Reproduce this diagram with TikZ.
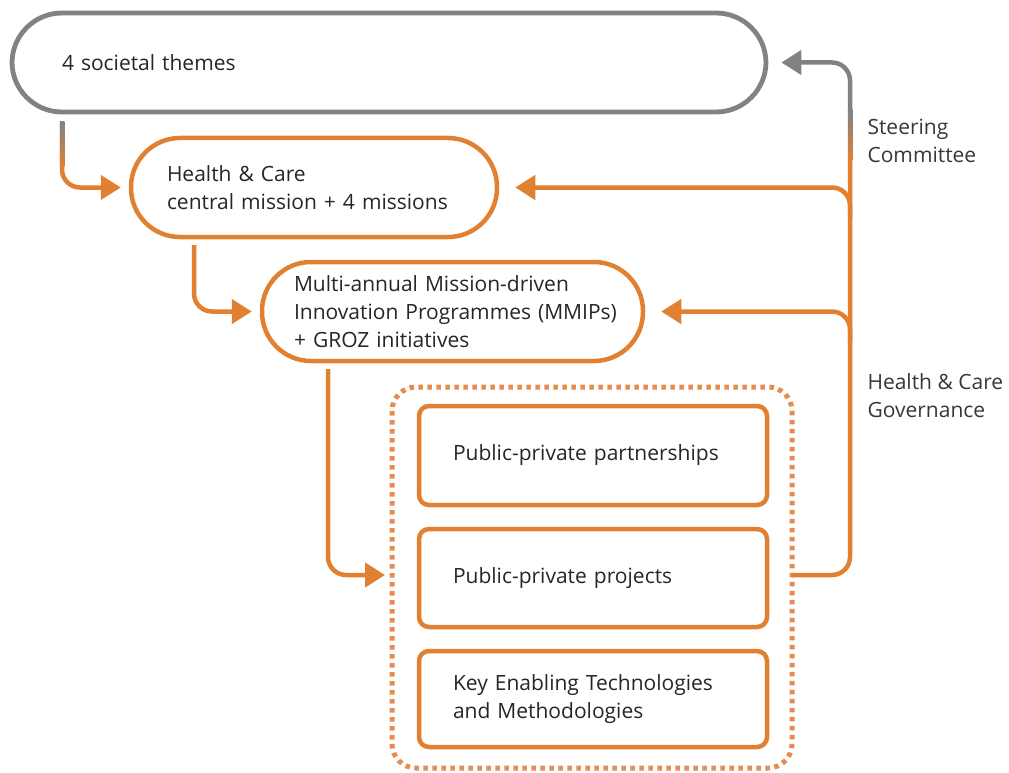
\documentclass[tikz,border=0pt]{standalone}
\usepackage{fontspec}
\setmainfont{Open Sans}
\usepackage{xcolor}
\definecolor{MissionOrange}{RGB}{224,128,48}
\definecolor{MissionOrangePale}{RGB}{230,140,82}
\definecolor{ThemeGray}{RGB}{128,130,134}
\definecolor{LabelGray}{RGB}{55,55,55}
\usepackage{tikz}
\usetikzlibrary{
    arrows.meta,
    positioning,
    calc
}

\begin{document}
\begin{tikzpicture}[
    x=1pt, y=-1pt,
    font=\fontsize{21}{28}\selectfont,
%
    theme/.style={
        draw=ThemeGray,
        line width=4.8pt,
        rounded corners=50pt,
        minimum height=99pt,
        align=left,
        text=black!85
    },
%
    mission/.style={
        draw=MissionOrange,
        line width=4.5pt,
        rounded corners=49pt,
        minimum height=99pt,
        align=left,
        text=black!85
    },
%
    instrument/.style={
        draw=MissionOrange,
        line width=4.5pt,
        rounded corners=10pt,
        inner xsep=34pt,
        text width=280pt,
        align=left,
        text=black!85
    },
%
    cluster/.style={
        draw=MissionOrangePale,
        line width=5pt,
        dash pattern=on 4.5pt off 4.5pt,
        rounded corners=24pt
    },
%
    flow/.style={
        -{Triangle[length=20pt,width=24pt]},
        line width=4.5pt,
        draw=MissionOrange,
        rounded corners=18pt
    },
%
    govlabel/.style={
        align=left,
        anchor=west,
        text=LabelGray
    }
]
\useasboundingbox (0,0) rectangle (1009,773);
%
% The levels, from the societal themes down to the instruments.
%
\node[
    theme,
    inner xsep=50pt,
    text width=654pt
] (themes) at (389,62.5) {4 societal themes};
\node[
    mission,
    inner xsep=36pt,
    text width=294pt
] (health) at (314,187.5) {
    Health \& Care\\
    central mission + 4 missions
};
\node[
    mission,
    inner xsep=32pt,
    text width=317pt
] (mmip) at (452.5,311.5) {
    Multi-annual Mission-driven\\
    \mbox{Innovation Programmes (MMIPs)}\\
    + GROZ initiatives
};
\node[
    instrument,
    minimum height=99pt
] (ppp) at (593,455.5) {Public-private partnerships};
\node[
    instrument,
    minimum height=98pt
] (projects) at (593,578) {Public-private projects};
\node[
    instrument,
    minimum height=96pt
] (ket) at (593,699) {
    Key Enabling Technologies\\
    and Methodologies
};
\draw[cluster] (392,387) rectangle (792,768);
\coordinate (cluster west) at (392,575);
\coordinate (cluster east) at (792,575);
%
% Downward flow on the left.
%
\coordinate (themes out) at (62,122);
\coordinate (health out) at (194,245);
\coordinate (mmip out) at (328,369);
\draw[flow, shorten >=8pt] (themes out) |- (health.west);
\shade[top color=ThemeGray, bottom color=MissionOrange]
    ($(themes out)+(-2.25,0)$) rectangle ($(themes out)+(2.25,44)$);
\draw[flow, shorten >=8pt] (health out) |- (mmip.west);
\draw[flow, shorten >=7pt] (mmip out) |- (cluster west);
%
% Governance loop on the right.
%
\coordinate (spine top) at (850,112);
\coordinate (spine mid) at (850,160);
\draw[flow, draw=ThemeGray, shorten >=13pt]
    (spine top) |- (themes.east);
\draw[flow, -] (cluster east) -| (spine mid);
\shade[top color=ThemeGray, bottom color=MissionOrange]
    ($(spine top)+(-2.25,-2)$) rectangle ($(spine mid)+(2.25,0)$);
\draw[flow, shorten >=16pt]
    ($(health.east -| spine top)+(0,30)$) |- (health.east);
\draw[flow, shorten >=16pt]
    ($(mmip.east -| spine top)+(0,30)$) |- (mmip.east);
%
\node[govlabel] (steering) at (864,141) {
    Steering\\
    Committee
};
\node[govlabel] (governance) at (864,396) {
    Health \& Care\\
    Governance
};
%
\end{tikzpicture}
\end{document}
